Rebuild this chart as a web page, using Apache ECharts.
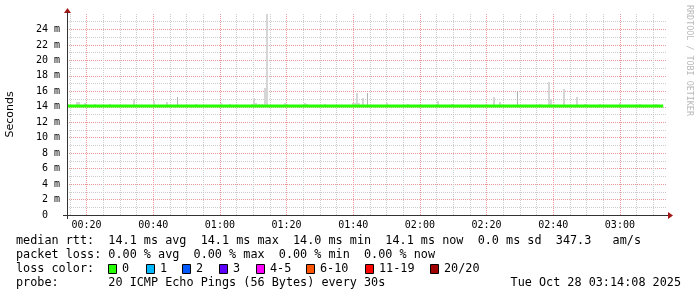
<!DOCTYPE html>
<html><head><meta charset="utf-8">
<script src="https://cdn.jsdelivr.net/npm/echarts@6/dist/echarts.min.js"></script>
<style>html,body{margin:0;padding:0;background:#fff}#c{width:697px;height:297px}</style>
</head><body><div id="c"></div>
<script>
// ---- time window (minutes after midnight) ----
const startMin = 14 + 8 / 60;          // 00:14:08
const endMin = startMin + 180;          // 03:14:08

// ---- axis ticks ----
const xMajorTicks = [20, 40, 60, 80, 100, 120, 140, 160, 180];
const xMajorLabels = ['00:20', '00:40', '01:00', '01:20', '01:40', '02:00', '02:20', '02:40', '03:00'];
const xMinorTicks = [15, 25, 30, 35, 45, 50, 55, 65, 70, 75, 85, 90, 95, 105, 110, 115, 125, 130, 135, 145, 150, 155, 165, 170, 175, 185, 190];
const yMajorTicks = [0, 2, 4, 6, 8, 10, 12, 14, 16, 18, 20, 22, 24];
const yMajorLabels = ['0  ', '2 m', '4 m', '6 m', '8 m', '10 m', '12 m', '14 m', '16 m', '18 m', '20 m', '22 m', '24 m'];
const yMinorTicks = [1, 3, 5, 7, 9, 11, 13, 15, 17, 19, 21, 23, 25];

// ---- median rtt (ms) ----
const medianT = [14.15, 30, 45, 60, 75, 90, 105, 120, 135, 150, 165, 180, 193.0];
const medianV = [14.1, 14.1, 14.1, 14.1, 14.1, 14.1, 14.1, 14.1, 14.1, 14.1, 14.1, 14.1, 14.1];

// ---- smoke (ping spread, ms) ----
const smokeT = [17.13, 17.74, 19.54, 22.54, 27.04, 34.25, 40.25, 44.15, 47.46, 52.86, 60.37, 63.07, 69.67, 70.27, 70.87, 71.77, 72.67, 73.47, 74.07, 79.58, 80.18, 85.58, 86.18, 91.59, 99.9, 100.5, 101.1, 101.7, 102.99, 104.5, 110.2, 116.5, 125.5, 129.7, 142.3, 144.1, 149.5, 156.1, 158.8, 159.4, 163.3, 167.2, 169.6, 174.1, 180.1, 186.1, 190.7];
const smokeLo = [14.0, 14.0, 14.0, 14.0, 14.0, 14.0, 14.0, 14.0, 14.0, 14.0, 14.0, 14.0, 14.0, 14.0, 14.0, 14.0, 14.0, 14.0, 14.0, 14.0, 14.0, 14.0, 14.0, 14.0, 14.0, 14.0, 14.0, 14.0, 14.0, 14.0, 14.0, 14.0, 14.0, 14.0, 14.0, 14.0, 14.0, 14.0, 14.0, 14.0, 14.0, 14.0, 14.0, 14.0, 14.0, 14.0, 14.0];
const smokeHi = [14.6, 14.6, 14.5, 14.4, 14.3, 15.0, 14.7, 14.6, 15.2, 14.4, 14.5, 14.4, 14.4, 15.1, 14.5, 14.4, 14.4, 16.4, 26.0, 14.5, 14.4, 14.5, 14.4, 14.3, 14.5, 14.5, 15.8, 14.5, 15.1, 15.8, 14.5, 14.3, 14.8, 14.4, 15.3, 14.6, 16.1, 14.4, 17.2, 15.0, 16.3, 15.3, 14.4, 14.4, 14.5, 14.4, 14.3];
const smokeDark = [0, 0, 0, 0, 0, 0, 0, 0, 1, 0, 0, 0, 0, 0, 0, 0, 0, 0, 0, 0, 0, 0, 0, 0, 0, 0, 0, 0, 0, 1, 0, 0, 0, 0, 0, 0, 1, 0, 0, 0, 0, 0, 0, 0, 0, 0, 0];

// ---- legend / stats text ----
const rttStats = ['14.1 ms avg', '14.1 ms max', '14.0 ms min', '14.1 ms now', '0.0 ms sd', '347.3   am/s'];
const lossStats = ['0.00 % avg', '0.00 % max', '0.00 % min', '0.00 % now'];
const lossNames = ['0', '1', '2', '3', '4-5', '6-10', '11-19', '20/20'];
const lossColors = ['#26ff00', '#00b8ff', '#0059ff', '#5e00ff', '#ff00ff', '#ff5500', '#ff0000', '#a00000'];
const probeText = '20 ICMP Echo Pings (56 Bytes) every 30s';
const dateText = 'Tue Oct 28 03:14:08 2025';

const MONO = 'DejaVu Sans Mono';
const smokeData = smokeT.map((t, i) => [t, smokeLo[i], smokeHi[i], smokeDark[i]]);
const medianData = medianT.map((t, i) => [t, medianV[i]]);

const majorColor = '#e89a9a';
const minorColor = '#cccccc';

function txt(x, y, s, extra) {
  return Object.assign({ type: 'text', x: x, y: y, silent: true,
    style: { text: s, font: '11.8px "' + MONO + '"', fill: '#000', textVerticalAlign: 'middle', textAlign: 'left' } }, extra || {});
}

const graphics = [];
const rows = [241, 255, 269, 283];
graphics.push(txt(16, rows[0], 'median rtt:  ' + rttStats.join('  ')));
graphics.push(txt(16, rows[1], 'packet loss: ' + lossStats.join('  ')));
graphics.push(txt(16, rows[2], 'loss color:'));
graphics.push(txt(16, rows[3], 'probe:       ' + probeText));
const dt = txt(681, rows[3], dateText); dt.style.textAlign = 'right'; graphics.push(dt);
const boxX = [108, 146, 182, 219, 256, 306, 365, 430];
lossNames.forEach((n, i) => {
  graphics.push({ type: 'rect', silent: true, shape: { x: boxX[i] + 0.5, y: 264.5, width: 8, height: 9 },
    style: { fill: lossColors[i], stroke: '#000', lineWidth: 1 } });
  graphics.push(txt(boxX[i] + 14, rows[2], n));
});
// watermark
graphics.push({ type: 'text', x: 689, y: 5, rotation: -Math.PI / 2, silent: true,
  style: { text: 'RRDTOOL / TOBI OETIKER', font: '8.4px "' + MONO + '"', fill: '#b8b8b8', textAlign: 'left', textVerticalAlign: 'middle' } });
// axis arrows
graphics.push({ type: 'polygon', silent: true, shape: { points: [[64, 13], [67.5, 8], [71, 13]] }, style: { fill: '#a01818' } });
graphics.push({ type: 'polygon', silent: true, shape: { points: [[668, 212], [673, 215.5], [668, 219]] }, style: { fill: '#a01818' } });
// axis line overhangs
graphics.push({ type: 'line', silent: true, z: 10, shape: { x1: 63, y1: 215.5, x2: 668, y2: 215.5 }, style: { stroke: '#333', lineWidth: 1 } });
graphics.push({ type: 'line', silent: true, z: 10, shape: { x1: 67.5, y1: 12, x2: 67.5, y2: 219 }, style: { stroke: '#333', lineWidth: 1 } });

const chart = echarts.init(document.getElementById('c'), null, { renderer: 'canvas' });
chart.setOption({
  animation: false,
  backgroundColor: '#fff',
  grid: { left: 67, top: 14, width: 600, height: 201, containLabel: false, outerBoundsMode: 'none' },
  xAxis: [
    { type: 'value', min: startMin, max: endMin, position: 'bottom',
      axisLine: { show: false },
      axisTick: { show: false, customValues: xMajorTicks },
      axisLabel: { customValues: xMajorTicks, margin: 5, fontFamily: MONO, fontSize: 10, color: '#000',
        formatter: v => xMajorLabels[xMajorTicks.indexOf(Math.round(v))] || '' },
      splitLine: { show: true, lineStyle: { color: majorColor, type: [1, 1], width: 1 } } },
    { type: 'value', min: startMin, max: endMin, position: 'bottom',
      axisLine: { show: false }, axisLabel: { show: false },
      axisTick: { show: false, customValues: xMinorTicks },
      splitLine: { show: true, lineStyle: { color: minorColor, type: [1, 1], width: 1 } } }
  ],
  yAxis: [
    { type: 'value', min: 0, max: 26, position: 'left',
      name: 'Seconds', nameLocation: 'middle', nameRotate: 90, nameGap: 51,
      nameTextStyle: { fontFamily: 'DejaVu Sans', fontSize: 11, color: '#000' },
      axisLine: { show: false },
      axisTick: { show: false, customValues: yMajorTicks },
      axisLabel: { customValues: yMajorTicks, margin: 7, fontFamily: MONO, fontSize: 10, color: '#000',
        formatter: v => yMajorLabels[yMajorTicks.indexOf(Math.round(v))] || '' },
      splitLine: { show: true, lineStyle: { color: majorColor, type: [1, 1], width: 1 } } },
    { type: 'value', min: 0, max: 26, position: 'left',
      axisLine: { show: false }, axisLabel: { show: false },
      axisTick: { show: false, customValues: yMinorTicks },
      splitLine: { show: true, lineStyle: { color: minorColor, type: [1, 1], width: 1 } } }
  ],
  series: [
    { type: 'custom', name: 'smoke', xAxisIndex: 0, yAxisIndex: 0, clip: true, z: 2,
      data: smokeData,
      renderItem: (params, api) => {
        const t = api.value(0), lo = api.value(1), hi = api.value(2), dark = api.value(3);
        const p0 = api.coord([t - 0.25, lo]);
        const p1 = api.coord([t + 0.25, hi]);
        const x0 = Math.round(p0[0]);
        const w = dark ? 1 : Math.max(2, Math.round(p1[0] - p0[0]));
        const yTop = Math.round(p1[1]);
        return { type: 'rect', shape: { x: x0, y: yTop, width: w, height: Math.round(p0[1]) - yTop },
          style: { fill: dark ? '#b0b0b0' : '#d6d6d6' } };
      } },
    { type: 'line', name: 'median rtt', xAxisIndex: 0, yAxisIndex: 0, z: 3,
      data: medianData, symbol: 'none', lineStyle: { color: '#26ff00', width: 3 } }
  ],
  graphic: graphics
});
</script>
</body></html>
